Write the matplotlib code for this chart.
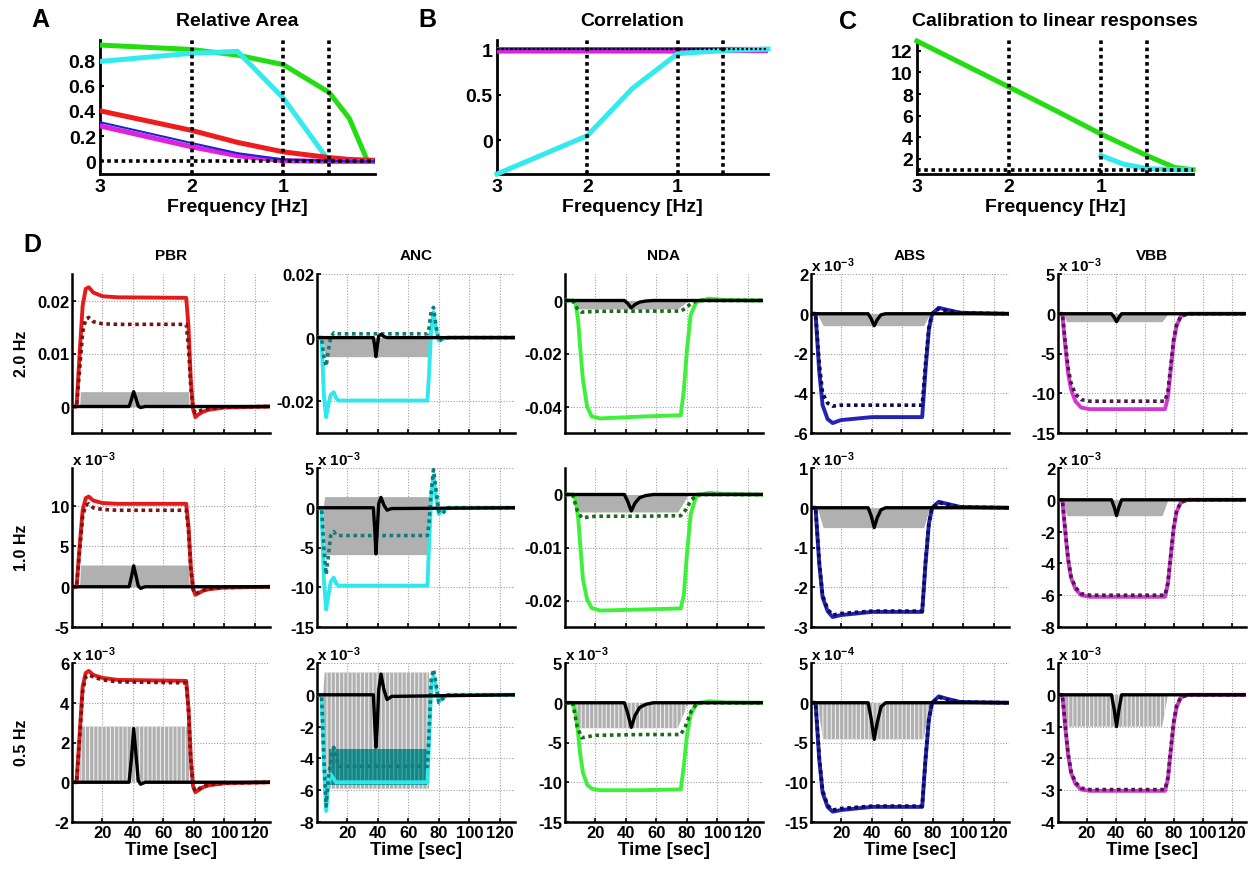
import matplotlib
matplotlib.use('Agg')
import matplotlib.pyplot as plt
from matplotlib.ticker import FuncFormatter, MultipleLocator

plt.rcParams['font.family'] = ['Liberation Sans', 'DejaVu Sans']
plt.rcParams['font.weight'] = 'bold'
plt.rcParams['mathtext.fontset'] = 'custom'
plt.rcParams['mathtext.bf'] = 'Liberation Sans:bold'
plt.rcParams['mathtext.rm'] = 'Liberation Sans:bold'
plt.rcParams['mathtext.default'] = 'bf'
plt.rcParams['hatch.linewidth'] = 0.8

# ---------------- panels A-C : frequency summaries ----------------
ref_freqs = [2, 1, 0.5]

freq_a = [3, 2, 1.5, 1, 0.5, 0.28, 0.08, 0]
area_green = [0.92, 0.885, 0.84, 0.765, 0.545, 0.34, 0.0, 0.0]
area_cyan = [0.79, 0.855, 0.87, 0.5, 0.0, 0.0, 0.0, 0.0]
area_red = [0.40, 0.245, 0.15, 0.075, 0.03, 0.015, 0.01, 0.008]
area_magenta = [0.28, 0.115, 0.045, 0.005, 0.0, 0.0, 0.0, 0.0]
area_blue = [0.31, 0.145, 0.065, 0.015, 0.005, 0.0, 0.0, 0.0]

freq_b = [3, 2, 1.5, 1, 0.5, 0]
corr_red = [1, 1, 1, 1, 1, 1]
corr_green = [0.99, 0.99, 0.99, 0.99, 0.995, 0.995]
corr_blue = [1, 1, 1, 1, 1, 1]
corr_magenta = [0.985, 0.985, 0.985, 0.985, 0.99, 0.99]
corr_cyan = [-0.37, 0.05, 0.57, 0.95, 0.985, 1.0]

freq_c = [3, 2, 1.5, 1, 0.75, 0.5, 0.2, 0]
calib_green = [12.9, 8.65, 6.5, 4.3, 3.3, 2.3, 1.2, 1.0]
calib_cyan = [float('nan'), float('nan'), float('nan'), 2.3, 1.5, 1.1, 1.0, 1.0]

# ---------------- panel D : time courses ----------------
col_names = ['PBR', 'ANC', 'NDA', 'ABS', 'VBB']
row_names = ['2.0 Hz', '1.0 Hz', '0.5 Hz']
time_ticks = [20, 40, 60, 80, 100, 120]

# PBR
pbr_t = [0, 3, 5, 7, 9, 11, 14, 20, 30, 75, 76.5, 78, 79.5, 81, 83, 86, 90, 100, 130]
pbr_solid_2hz = [0, 0, 0.010, 0.019, 0.0222, 0.0225, 0.0215, 0.0208, 0.0206, 0.0205, 0.015, 0.005, -0.0005, -0.002, -0.0015, -0.001, -0.0006, -0.0002, 0]
pbr_dot_2hz = [0, 0, 0.007, 0.014, 0.0165, 0.0168, 0.016, 0.0156, 0.0155, 0.0155, 0.0112, 0.0035, -0.0003, -0.0012, -0.0009, -0.0006, -0.0004, -0.0001, 0]
pbr_solid_1hz = [0, 0, 0.005, 0.0095, 0.011, 0.0112, 0.0107, 0.0104, 0.0103, 0.0103, 0.0075, 0.0025, -0.0003, -0.001, -0.0008, -0.0005, -0.0003, -0.0001, 0]
pbr_dot_1hz = [0, 0, 0.0045, 0.0088, 0.0101, 0.0103, 0.0098, 0.0096, 0.0095, 0.0095, 0.007, 0.0023, -0.0003, -0.0009, -0.0007, -0.00045, -0.00025, -0.0001, 0]
pbr_solid_05hz = [0, 0, 0.0024, 0.0048, 0.0055, 0.0056, 0.0054, 0.00525, 0.00515, 0.0051, 0.0037, 0.0012, -0.0002, -0.0005, -0.0004, -0.00025, -0.00015, -0.00005, 0]
pbr_dot_05hz = [0, 0, 0.0022, 0.0046, 0.0053, 0.0054, 0.0053, 0.00515, 0.00505, 0.005, 0.0036, 0.0011, -0.0002, -0.00045, -0.00035, -0.0002, -0.00012, -0.00005, 0]
pbr_gray_t = [5, 5.5, 76.5, 77]
pbr_gray_lo = [0, 0, 0, 0]
pbr_gray_hi_2hz = [0, 0.0028, 0.0028, 0]
pbr_gray_hi_1hz = [0, 0.0027, 0.0027, 0]
pbr_gray_hi_05hz = [0, 0.0028, 0.0028, 0]
pbr_blk_t = [0, 37.5, 39, 40.5, 42, 43.5, 45, 48, 130]
pbr_blk_2hz = [0, 0, 0.0013, 0.0028, 0.0015, 0.0001, -0.0002, 0, 0]
pbr_blk_1hz = [0, 0, 0.0012, 0.0026, 0.0014, 0.0001, -0.0002, 0, 0]
pbr_blk_05hz = [0, 0, 0.0012, 0.0027, 0.0014, 0.0001, -0.0001, 0, 0]

# ANC
anc_t = [0, 3, 4.5, 6, 7.5, 9, 11, 12.5, 14, 72.5, 73.5, 75, 76.5, 78, 80, 82, 86, 130]
anc_solid_2hz = [0, 0, -0.018, -0.025, -0.021, -0.018, -0.0172, -0.019, -0.0198, -0.0198, -0.012, 0.003, 0.008, 0.003, -0.001, -0.0005, 0, 0]
anc_dot_2hz = [0, 0, -0.006, -0.009, -0.004, 0.0, 0.0015, 0.0012, 0.0012, 0.0012, 0.003, 0.0085, 0.0095, 0.004, -0.001, -0.0005, 0, 0]
anc_solid_1hz = [0, 0, -0.009, -0.0128, -0.011, -0.0093, -0.0088, -0.0095, -0.0098, -0.0098, -0.005, 0.0015, 0.004, 0.0015, -0.0008, -0.0004, 0, 0]
anc_dot_1hz = [0, 0, -0.005, -0.0084, -0.006, -0.0035, -0.003, -0.0034, -0.0035, -0.0035, -0.002, 0.002, 0.0048, 0.0025, -0.0005, -0.0008, 0, 0]
anc_solid_05hz = [0, 0, -0.004, -0.0073, -0.0055, -0.005, -0.0053, -0.0055, -0.0055, -0.0055, -0.003, 0.0005, 0.0012, 0.0005, -0.0004, -0.0002, 0, 0]
anc_dot_05hz = [0, 0, -0.004, -0.007, -0.0052, -0.0042, -0.0033, -0.0038, -0.0045, -0.0045, -0.0025, 0.001, 0.0016, 0.0008, -0.0005, -0.0003, 0, 0]
anc_band_t = [8, 72.5]
anc_band_lo_05hz = [-0.0057, -0.0057]
anc_band_hi_05hz = [-0.0034, -0.0034]
anc_gray_t = [4, 5, 73.5, 74]
anc_gray_lo_2hz = [0, -0.006, -0.006, 0]
anc_gray_hi_2hz = [0, 0, 0, 0]
anc_gray_lo_1hz = [0, -0.0059, -0.0059, 0]
anc_gray_hi_1hz = [0, 0.0014, 0.0014, 0]
anc_gray_lo_05hz = [0, -0.0059, -0.0059, 0]
anc_gray_hi_05hz = [0, 0.0014, 0.0014, 0]
anc_blk_t = [0, 37, 38, 38.7, 39.5, 40.5, 42, 44, 46, 49, 130]
anc_blk_2hz = [0, 0, -0.003, -0.006, -0.003, 0.0005, 0.001, 0.0003, 0, 0, 0]
anc_blk_1hz = [0, 0, -0.003, -0.0058, -0.003, 0.0005, 0.0013, 0.0003, -0.0003, -0.0001, 0]
anc_blk_05hz = [0, 0, -0.002, -0.0033, -0.002, 0.0003, 0.0013, 0.0003, -0.0003, -0.0001, 0]

# NDA
nda_t = [0, 5, 7, 8.7, 10, 11.8, 14.5, 17.5, 23, 50, 76, 78, 80, 82.5, 86, 89, 94.5, 105, 130]
nda_solid_2hz = [0, 0, -0.001, -0.008, -0.018, -0.030, -0.040, -0.0437, -0.0445, -0.0438, -0.0433, -0.034, -0.019, -0.0055, -0.0008, 0, 0.0007, 0.0002, 0]
nda_solid_1hz = [0, 0, -0.001, -0.0046, -0.0095, -0.016, -0.0198, -0.0214, -0.0219, -0.0217, -0.0215, -0.019, -0.0115, -0.0038, -0.0004, 0, 0.0003, 0.0001, 0]
nda_solid_05hz = [0, 0, -0.0012, -0.004, -0.0065, -0.0088, -0.0103, -0.0108, -0.011, -0.011, -0.0109, -0.008, -0.0042, -0.0015, -0.0002, 0, 0.0002, 0.00005, 0]
nda_dot_t = [0, 5, 8, 11, 20, 50, 76, 79, 83, 87, 130]
nda_dot_2hz = [0, 0, -0.003, -0.0044, -0.0041, -0.004, -0.004, -0.003, -0.001, 0, 0]
nda_dot_1hz = [0, 0, -0.003, -0.0044, -0.0041, -0.0041, -0.004, -0.003, -0.001, 0, 0]
nda_dot_05hz = [0, 0, -0.003, -0.0044, -0.0041, -0.004, -0.004, -0.003, -0.001, 0, 0]
nda_gray_t = [5, 9, 74, 81]
nda_gray_lo_2hz = [0, -0.0032, -0.0032, 0]
nda_gray_lo_1hz = [0, -0.0033, -0.0033, 0]
nda_gray_lo_05hz = [0, -0.0032, -0.0032, 0]
nda_gray_hi = [0, 0, 0, 0]
nda_blk_t = [0, 39, 41, 43.5, 46, 49, 53, 58, 130]
nda_blk_2hz = [0, 0, -0.001, -0.0028, -0.0015, -0.0006, -0.0002, 0, 0]
nda_blk_1hz = [0, 0, -0.0012, -0.0031, -0.0016, -0.0006, -0.0002, 0, 0]
nda_blk_05hz = [0, 0, -0.0012, -0.0031, -0.0016, -0.0006, -0.0002, 0, 0]

# ABS
abs_t = [0, 3, 5.4, 7.6, 10.9, 14.2, 19.6, 40, 73, 75.2, 77.4, 79.5, 83.9, 89.3, 98, 130]
abs_solid_2hz = [0, 0, -0.0029, -0.0046, -0.0053, -0.0055, -0.00535, -0.0052, -0.0052, -0.0028, -0.0008, 0, 0.0003, 0.0002, 0.00005, 0]
abs_dot_2hz = [0, 0, -0.0025, -0.004, -0.0045, -0.00465, -0.0046, -0.0046, -0.0046, -0.0025, -0.0007, 0, 0.00025, 0.00015, 0.00005, 0]
abs_solid_1hz = [0, 0, -0.0014, -0.00225, -0.0026, -0.00275, -0.0027, -0.00262, -0.00262, -0.0014, -0.0004, 0, 0.00015, 0.0001, 0.00002, 0]
abs_dot_1hz = [0, 0, -0.00135, -0.0022, -0.00255, -0.0027, -0.00266, -0.0026, -0.0026, -0.00135, -0.0004, 0, 0.00013, 0.00008, 0.00002, 0]
abs_solid_05hz = [0, 0, -0.00071, -0.00113, -0.00131, -0.00137, -0.00135, -0.00131, -0.00131, -0.00071, -0.00021, 0, 0.00008, 0.00005, 0.00001, 0]
abs_dot_05hz = [0, 0, -0.00068, -0.0011, -0.00129, -0.00135, -0.00133, -0.0013, -0.0013, -0.0007, -0.0002, 0, 0.00007, 0.00004, 0.00001, 0]
abs_gray_t = [4, 8, 74, 78]
abs_gray_lo_2hz = [0, -0.0006, -0.0006, 0]
abs_gray_lo_1hz = [0, -0.0005, -0.0005, 0]
abs_gray_lo_05hz = [0, -0.00046, -0.00046, 0]
abs_gray_hi = [0, 0, 0, 0]
abs_blk_t = [0, 37.5, 39.5, 41.5, 43.5, 46, 49, 130]
abs_blk_2hz = [0, 0, -0.00025, -0.0006, -0.0003, -0.00005, 0, 0]
abs_blk_1hz = [0, 0, -0.0002, -0.0005, -0.00025, -0.00005, 0, 0]
abs_blk_05hz = [0, 0, -0.0002, -0.00046, -0.00025, -0.00005, 0, 0]

# VBB
vbb_t = [0, 3, 5, 7, 9, 12, 16, 22, 40, 74, 76, 78, 80, 82, 85, 90, 130]
vbb_solid_2hz = [0, 0, -0.004, -0.0075, -0.0095, -0.011, -0.0118, -0.012, -0.012, -0.012, -0.0105, -0.007, -0.0035, -0.0015, -0.0003, 0, 0]
vbb_dot_2hz = [0, 0, -0.0035, -0.0068, -0.0087, -0.0101, -0.0108, -0.011, -0.011, -0.011, -0.0097, -0.0065, -0.0032, -0.0014, -0.0003, 0, 0]
vbb_solid_1hz = [0, 0, -0.002, -0.0038, -0.0049, -0.0056, -0.006, -0.0061, -0.0061, -0.0061, -0.0053, -0.0035, -0.0018, -0.00075, -0.00015, 0, 0]
vbb_dot_1hz = [0, 0, -0.0019, -0.0037, -0.0048, -0.0055, -0.0059, -0.006, -0.006, -0.006, -0.0052, -0.0035, -0.0017, -0.0007, -0.00015, 0, 0]
vbb_solid_05hz = [0, 0, -0.001, -0.0019, -0.00245, -0.0028, -0.00298, -0.00302, -0.00302, -0.00302, -0.00265, -0.00175, -0.0009, -0.00038, -0.00008, 0, 0]
vbb_dot_05hz = [0, 0, -0.00095, -0.00185, -0.0024, -0.00275, -0.00293, -0.00298, -0.00298, -0.00298, -0.0026, -0.0017, -0.00085, -0.00035, -0.00007, 0, 0]
vbb_gray_t = [3, 6, 72, 76]
vbb_gray_lo = [0, -0.001, -0.001, 0]
vbb_gray_hi = [0, 0, 0, 0]
vbb_blk_t = [0, 37, 39, 40.5, 42, 44, 130]
vbb_blk = [0, 0, -0.0005, -0.001, -0.0005, 0, 0]

# axis ranges, tick steps and exponent of the "x 10^n" label, per row
d_ylims = [
    [(-0.005, 0.025), (-0.03, 0.02), (-0.05, 0.01), (-6e-3, 2e-3), (-15e-3, 5e-3)],
    [(-5e-3, 14.75e-3), (-15e-3, 5e-3), (-0.025, 0.005), (-3e-3, 1e-3), (-8e-3, 2e-3)],
    [(-2e-3, 6e-3), (-8e-3, 2e-3), (-15e-3, 5e-3), (-15e-4, 5e-4), (-4e-3, 1e-3)],
]
d_ysteps = [
    [0.01, 0.02, 0.02, 2e-3, 5e-3],
    [5e-3, 5e-3, 0.01, 1e-3, 2e-3],
    [2e-3, 2e-3, 5e-3, 5e-4, 1e-3],
]
d_exps = [
    [None, None, None, -3, -3],
    [-3, -3, None, -3, -3],
    [-3, -3, -3, -4, -3],
]

col_colors = {
    'PBR': ('#e31b1b', '#7a1414'),
    'ANC': ('#2ee8ec', '#127c7c'),
    'NDA': ('#3ef03a', '#1d6b1d'),
    'ABS': ('#2323b4', '#0c0c55'),
    'VBB': ('#d03ad0', '#4e1a4e'),
}

panels = {
    'PBR': dict(t=pbr_t, solid=[pbr_solid_2hz, pbr_solid_1hz, pbr_solid_05hz],
                dot_t=pbr_t, dot=[pbr_dot_2hz, pbr_dot_1hz, pbr_dot_05hz],
                gray_t=pbr_gray_t, gray_lo=[pbr_gray_lo] * 3,
                gray_hi=[pbr_gray_hi_2hz, pbr_gray_hi_1hz, pbr_gray_hi_05hz],
                blk_t=pbr_blk_t, blk=[pbr_blk_2hz, pbr_blk_1hz, pbr_blk_05hz]),
    'ANC': dict(t=anc_t, solid=[anc_solid_2hz, anc_solid_1hz, anc_solid_05hz],
                dot_t=anc_t, dot=[anc_dot_2hz, anc_dot_1hz, anc_dot_05hz],
                gray_t=anc_gray_t, gray_lo=[anc_gray_lo_2hz, anc_gray_lo_1hz, anc_gray_lo_05hz],
                gray_hi=[anc_gray_hi_2hz, anc_gray_hi_1hz, anc_gray_hi_05hz],
                blk_t=anc_blk_t, blk=[anc_blk_2hz, anc_blk_1hz, anc_blk_05hz]),
    'NDA': dict(t=nda_t, solid=[nda_solid_2hz, nda_solid_1hz, nda_solid_05hz],
                dot_t=nda_dot_t, dot=[nda_dot_2hz, nda_dot_1hz, nda_dot_05hz],
                gray_t=nda_gray_t, gray_lo=[nda_gray_lo_2hz, nda_gray_lo_1hz, nda_gray_lo_05hz],
                gray_hi=[nda_gray_hi] * 3,
                blk_t=nda_blk_t, blk=[nda_blk_2hz, nda_blk_1hz, nda_blk_05hz]),
    'ABS': dict(t=abs_t, solid=[abs_solid_2hz, abs_solid_1hz, abs_solid_05hz],
                dot_t=abs_t, dot=[abs_dot_2hz, abs_dot_1hz, abs_dot_05hz],
                gray_t=abs_gray_t, gray_lo=[abs_gray_lo_2hz, abs_gray_lo_1hz, abs_gray_lo_05hz],
                gray_hi=[abs_gray_hi] * 3,
                blk_t=abs_blk_t, blk=[abs_blk_2hz, abs_blk_1hz, abs_blk_05hz]),
    'VBB': dict(t=vbb_t, solid=[vbb_solid_2hz, vbb_solid_1hz, vbb_solid_05hz],
                dot_t=vbb_t, dot=[vbb_dot_2hz, vbb_dot_1hz, vbb_dot_05hz],
                gray_t=vbb_gray_t, gray_lo=[vbb_gray_lo] * 3, gray_hi=[vbb_gray_hi] * 3,
                blk_t=vbb_blk_t, blk=[vbb_blk] * 3),
}

# ---------------- figure ----------------
W, H = 1252, 870
fig = plt.figure(figsize=(W / 100, H / 100), dpi=100)


def px_box(l, t, r, b):
    return [l / W, 1 - b / H, (r - l) / W, (b - t) / H]


def g_fmt(scale=1.0):
    return FuncFormatter(lambda v, p: '%g' % round(v / scale, 6))


dot = (0, (1, 1))


def freq_axes(box, title, ylim, yticks):
    ax = fig.add_axes(px_box(*box))
    ax.set_xlim(3, 0)
    ax.set_ylim(*ylim)
    ax.set_xticks([3, 2, 1])
    ax.set_yticks(yticks)
    ax.xaxis.set_major_formatter(g_fmt())
    ax.yaxis.set_major_formatter(g_fmt())
    ax.spines[['top', 'right']].set_visible(False)
    ax.spines[['left', 'bottom']].set_linewidth(2)
    ax.tick_params(labelsize=14, width=1.5, length=3, direction='in', pad=3)
    ax.set_title(title, fontsize=14, fontweight='bold', pad=11)
    ax.set_xlabel('Frequency [Hz]', fontsize=14, fontweight='bold', labelpad=2)
    for f in ref_freqs:
        ax.axvline(f, color='black', lw=2.6, ls=dot, zorder=6)
    return ax


# A
ax = freq_axes((100, 41, 375, 175), 'Relative Area', (-0.1, 0.96), [0, 0.2, 0.4, 0.6, 0.8])
ax.plot(freq_a, area_green, color='#22dd11', lw=3.6, zorder=3)
ax.plot(freq_a, area_cyan, color='#33eaee', lw=3.6, zorder=3)
ax.plot(freq_a, area_red, color='#ee1c1c', lw=3.6, zorder=3)
ax.plot(freq_a, area_magenta, color='#dd22dd', lw=3.6, zorder=3)
ax.plot(freq_a, area_blue, color='#2222cc', lw=1.5, zorder=4)
ax.axhline(0, color='black', lw=2.6, ls=dot, zorder=6)

# B
ax = freq_axes((497, 41, 768, 175), 'Correlation', (-0.37, 1.1), [0, 0.5, 1])
ax.plot(freq_b, corr_red, color='#ee1c1c', lw=3.6, zorder=3)
ax.plot(freq_b, corr_green, color='#22dd11', lw=3.6, zorder=3)
ax.plot(freq_b, corr_magenta, color='#dd22dd', lw=4.5, zorder=3)
ax.plot(freq_b, corr_blue, color='#4422aa', lw=1.5, zorder=4)
ax.plot(freq_b, corr_cyan, color='#33eaee', lw=3.6, zorder=4, clip_on=False)
ax.axhline(1, color='black', lw=1.6, ls=dot, zorder=6)

# C
ax = freq_axes((917, 41, 1193, 175), 'Calibration to linear responses', (0.6, 13), [2, 4, 6, 8, 10, 12])
ax.plot(freq_c, calib_green, color='#22dd11', lw=3.6, zorder=3, clip_on=False)
ax.plot(freq_c, calib_cyan, color='#33eaee', lw=3.6, zorder=3)
ax.axhline(1, color='black', lw=2.6, ls=dot, zorder=6)

# D
d_left = [72, 317, 565, 811, 1058]
d_widths = [198, 198, 198, 198, 188]
d_top = [275, 469, 664]
d_h = 159

for ci, name in enumerate(col_names):
    p = panels[name]
    c_solid, c_dot = col_colors[name]
    for ri in range(3):
        ax = fig.add_axes(px_box(d_left[ci], d_top[ri], d_left[ci] + d_widths[ci], d_top[ri] + d_h))
        striped = ri == 2
        ax.fill_between(p['gray_t'], p['gray_lo'][ri], p['gray_hi'][ri], facecolor='#b0b0b0',
                        edgecolor='#eeeeee' if striped else '#b0b0b0', hatch='||||' if striped else None,
                        lw=0, zorder=1)
        if name == 'ANC' and striped:
            ax.fill_between(anc_band_t, anc_band_lo_05hz, anc_band_hi_05hz, facecolor='#1a8484',
                            edgecolor='#3aabab', hatch='||||', lw=0, zorder=2)
        ax.plot(p['t'], p['solid'][ri], color=c_solid, lw=2.8, zorder=3)
        ax.plot(p['dot_t'], p['dot'][ri], color=c_dot, lw=2.6, ls=dot, zorder=4)
        ax.plot(p['blk_t'], p['blk'][ri], color='black', lw=2.4, zorder=5)

        ax.set_xlim(0, 130)
        ax.set_ylim(*d_ylims[ri][ci])
        ax.set_xticks(time_ticks)
        ax.yaxis.set_major_locator(MultipleLocator(d_ysteps[ri][ci]))
        exp = d_exps[ri][ci]
        ax.yaxis.set_major_formatter(g_fmt(10.0 ** exp if exp else 1.0))
        if exp:
            ax.text(0.0, 1.0, r'x 10$^{%d}$' % exp, transform=ax.transAxes, fontsize=11,
                    fontweight='bold', ha='left', va='bottom')
        ax.grid(True, color='#a0a0a0', ls=(0, (1, 1.5)), lw=0.8)
        ax.set_axisbelow(True)
        ax.spines[['top', 'right']].set_visible(False)
        ax.spines[['left', 'bottom']].set_linewidth(1.8)
        ax.tick_params(labelsize=12, width=1.2, length=3, direction='in', pad=2)
        if ri == 2:
            ax.set_xlabel('Time [sec]', fontsize=13.5, fontweight='bold', labelpad=1)
        else:
            ax.tick_params(labelbottom=False)
        if ri == 0:
            ax.set_title(name, fontsize=11, fontweight='bold', pad=11)

row_centers = [354, 548, 743]
for ri, lab in enumerate(row_names):
    fig.text(22 / W, 1 - row_centers[ri] / H, lab, rotation=90, fontsize=11.5,
             fontweight='bold', ha='center', va='center')

for letter, x, y in [('A', 40, 20), ('B', 427, 20), ('C', 848, 22), ('D', 32, 245)]:
    fig.text(x / W, 1 - y / H, letter, fontsize=18, fontweight='bold', ha='center', va='center')

fig.savefig('out.png', dpi=100)
